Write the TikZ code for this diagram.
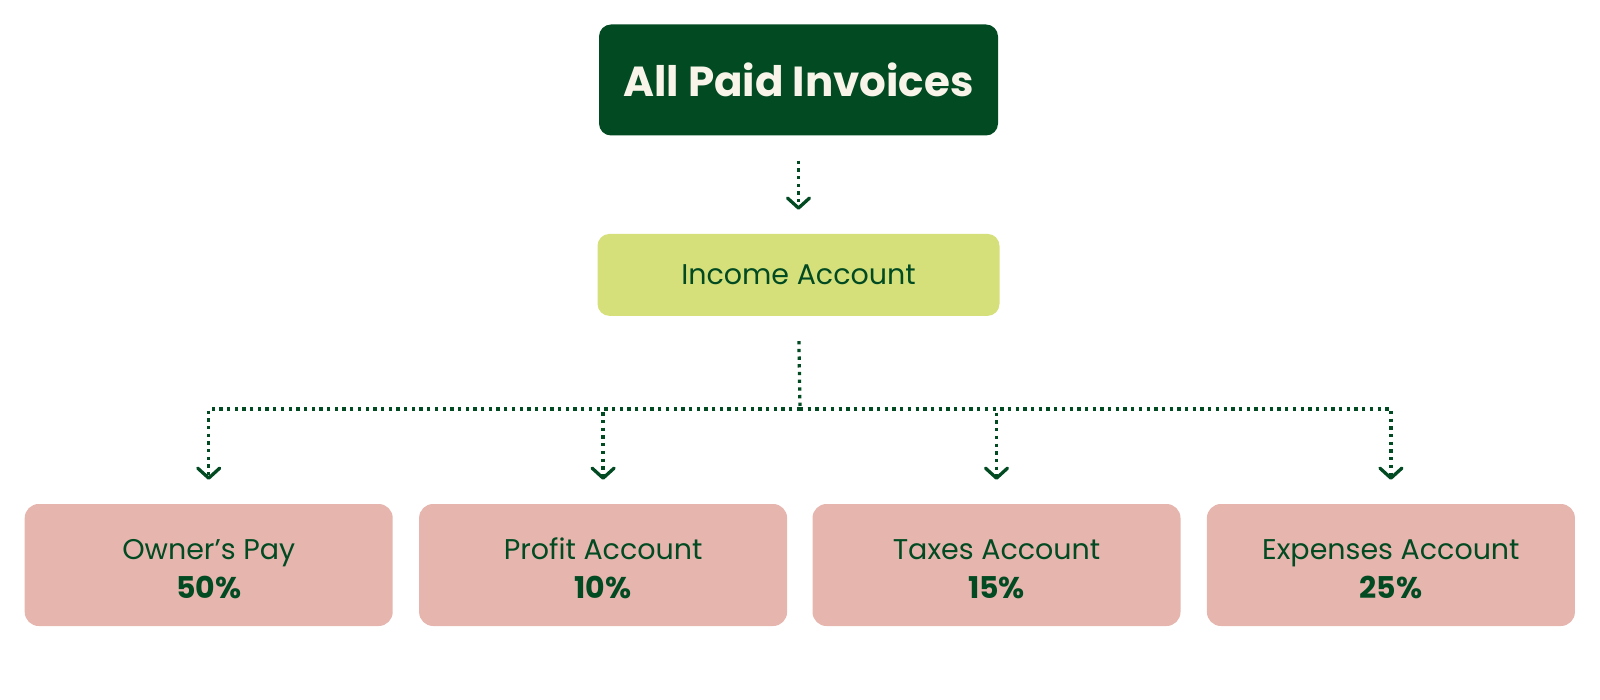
\documentclass[tikz,border=0pt]{standalone}
\usepackage{fontspec}
\setmainfont{Poppins}
\usetikzlibrary{arrows.meta,positioning}
\definecolor{forest}{HTML}{014A22}
\definecolor{lime}{HTML}{D5E07B}
\definecolor{blush}{HTML}{E6B5AE}
\definecolor{cream}{HTML}{F8F4EA}
\newcommand{\share}[1]{{\fontsize{30}{39}\selectfont\bfseries #1}}
\newcommand{\lift}{\rule{0pt}{29pt}}
\begin{document}
\begin{tikzpicture}[x=1pt,y=-1pt,
    topbox/.style={fill=forest, rounded corners=12pt, minimum width=399pt, minimum height=111pt, text=cream, font=\fontsize{42}{48}\selectfont\bfseries},
    incomebox/.style={fill=lime, rounded corners=12pt, minimum width=402pt, minimum height=82pt, text=forest, font=\fontsize{28.5}{34}\selectfont},
    accountbox/.style={fill=blush, rounded corners=14pt, minimum width=368pt, minimum height=122pt, text=forest, align=center, font=\fontsize{28.5}{39}\selectfont},
    flow/.style={draw=forest, line width=3.3pt, dash pattern=on 3.3pt off 4.4pt, shorten >=24pt},
    tip/.style={-{Straight Barb[length=10pt,width=22pt,line width=3.3pt,round]}}]
    \useasboundingbox (0,0) rectangle (1600,700);

    \node (invoices) [topbox] at (798.5,80) {All Paid Invoices};
    \node (income) [incomebox, below=98pt of invoices] {Income Account};
    \node (owner) [accountbox] at (208.7,565) {\lift Owner’s Pay\\\share{50\%}};
    \node (profit) [accountbox, right=26pt of owner] {\lift Profit Account\\\share{10\%}};
    \node (taxes) [accountbox, right=25pt of profit] {\lift Taxes Account\\\share{15\%}};
    \node (expenses) [accountbox, right=26pt of taxes] {\lift Expenses Account\\\share{25\%}};
    \coordinate (split) at (800,409);

    \draw[flow, tip, shorten <=25pt] (invoices) -- (income);
    \draw[flow, shorten <=25pt, shorten >=0pt] (income.south) -- (split);
    \draw[flow, tip] (split) -| (owner.north);
    \draw[flow, tip] (split) -| (profit.north);
    \draw[flow, tip] (split) -| (taxes.north);
    \draw[flow, tip] (split) -| (expenses.north);
\end{tikzpicture}
\end{document}
